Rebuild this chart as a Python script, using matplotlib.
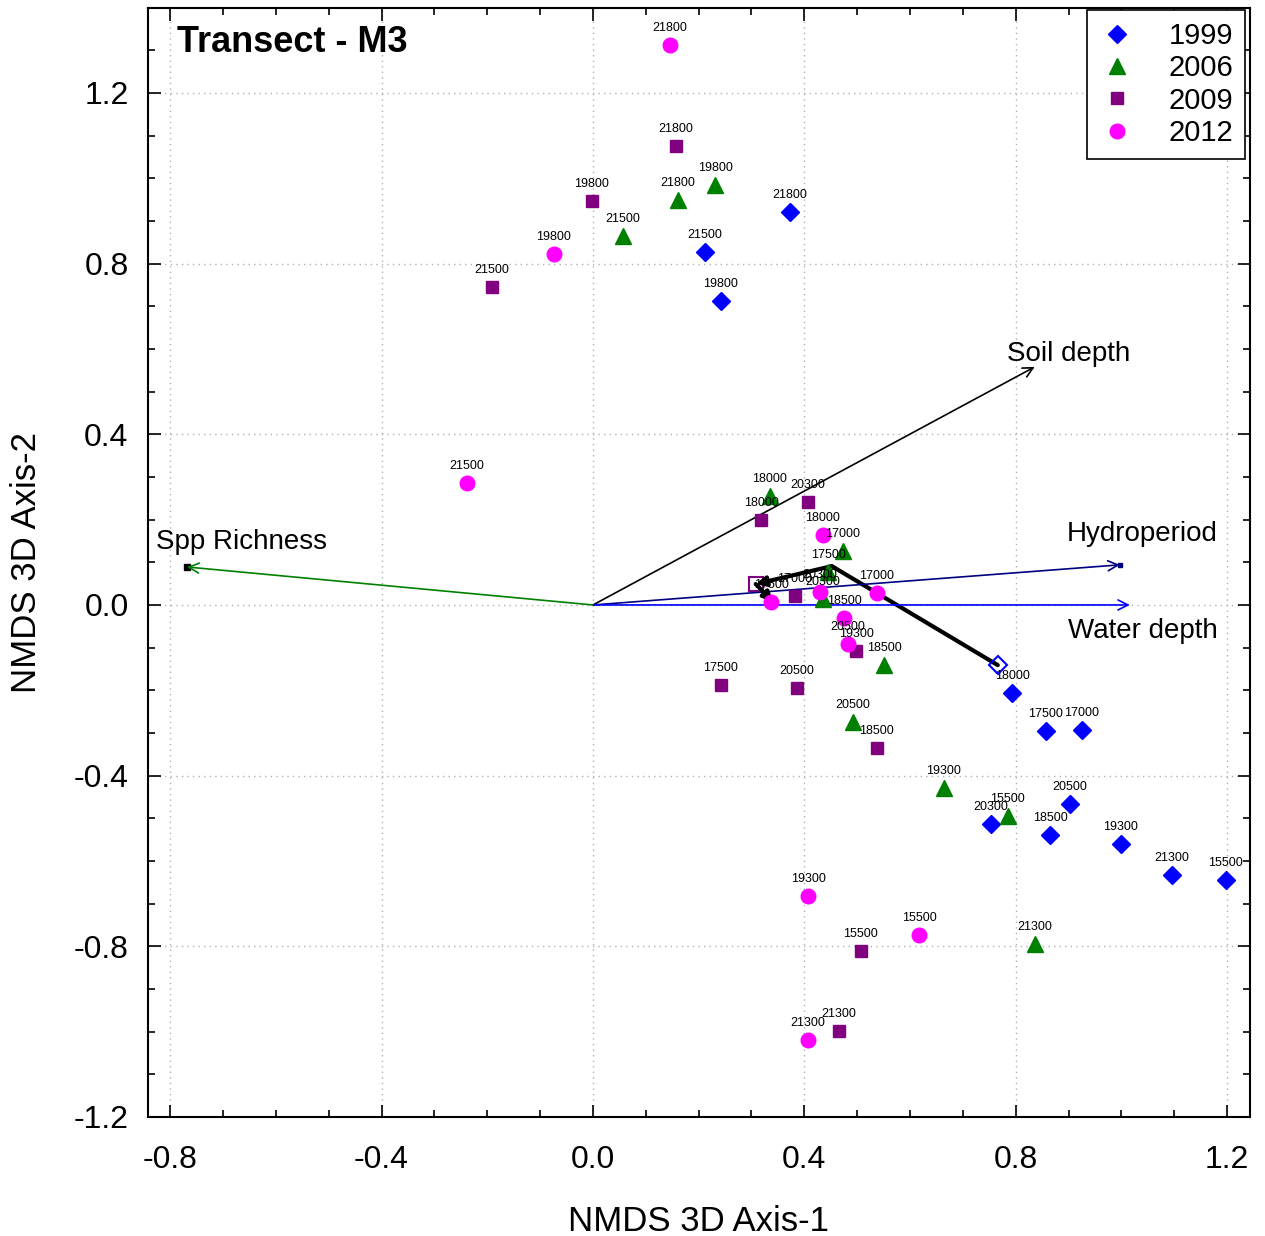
import matplotlib.pyplot as plt
from matplotlib.ticker import MultipleLocator, FormatStrFormatter

plt.rcParams['font.family'] = ['Liberation Sans', 'DejaVu Sans']

# NMDS scores per sampling year (site label, axis-1, axis-2)
sites_1999 = ['21800', '21500', '19800', '18000', '17500', '17000',
              '20300', '18500', '20500', '19300', '21300', '15500']
x_1999 = [0.373, 0.212, 0.242, 0.793, 0.857, 0.925, 0.753, 0.865, 0.902, 0.999, 1.095, 1.197]
y_1999 = [0.921, 0.827, 0.712, -0.206, -0.295, -0.293, -0.513, -0.539, -0.466, -0.560, -0.633, -0.644]

sites_2006 = ['21800', '19800', '21500', '18000', '17000', '17500',
              '20300', '18500', '20500', '19300', '15500', '21300']
x_2006 = [0.161, 0.231, 0.057, 0.335, 0.473, 0.445, 0.435, 0.551, 0.492, 0.664, 0.785, 0.836]
y_2006 = [0.949, 0.984, 0.865, 0.255, 0.127, 0.077, 0.014, -0.141, -0.274, -0.429, -0.494, -0.794]

sites_2009 = ['21800', '19800', '21500', '18000', '20300', '17000',
              '17500', '20500', '19300', '18500', '15500', '21300']
x_2009 = [0.157, -0.002, -0.191, 0.318, 0.407, 0.382, 0.242, 0.386, 0.498, 0.537, 0.507, 0.465]
y_2009 = [1.076, 0.947, 0.745, 0.199, 0.241, 0.021, -0.187, -0.195, -0.108, -0.335, -0.811, -0.998]

sites_2012 = ['21800', '19800', '21500', '18000', '17000', '17500',
              '20300', '18500', '20500', '19300', '15500', '21300']
x_2012 = [0.146, -0.074, -0.238, 0.435, 0.537, 0.337, 0.429, 0.475, 0.482, 0.407, 0.617, 0.407]
y_2012 = [1.312, 0.823, 0.286, 0.164, 0.028, 0.007, 0.031, -0.030, -0.091, -0.682, -0.773, -1.019]

# environmental vectors
vec_names = ['Soil depth', 'Hydroperiod', 'Water depth', 'Spp Richness']
vec_x = [0.836, 0.997, 1.016, -0.768]
vec_y = [0.558, 0.094, 0.000, 0.089]
vec_colors = ['black', '#000080', '#0000ff', '#008000']

# year centroids (trajectory)
cent_x = [0.766, 0.452, 0.308, 0.341]
cent_y = [-0.141, 0.091, 0.049, 0.007]

fig = plt.figure(figsize=(12.65, 12.36), dpi=100)
ax = fig.add_axes([0.117, 0.0963, 0.871, 0.8972])

ax.set_xlim(-0.842, 1.243)
ax.set_ylim(-1.2, 1.399)

ax.grid(True, which='major', color='#b0b0b0', linestyle=(0, (1, 3)), linewidth=1)
ax.set_axisbelow(True)

# vectors
for name, vx, vy, c in zip(vec_names, vec_x, vec_y, vec_colors):
    ax.annotate('', xy=(vx, vy), xytext=(0, 0),
                arrowprops=dict(arrowstyle='->', color=c, lw=1.2, mutation_scale=18,
                                shrinkA=0, shrinkB=0))
ax.plot([vec_x[3]], [vec_y[3]], 's', color='black', markersize=4)
ax.plot([vec_x[1]], [vec_y[1]], 's', color='#000080', markersize=3)

ax.text(0.783, 0.558, 'Soil depth', fontsize=20, ha='left', va='bottom')
ax.text(1.04, 0.135, 'Hydroperiod', fontsize=20, ha='center', va='bottom')
ax.text(1.04, -0.06, 'Water depth', fontsize=20, ha='center', va='center')
ax.text(-0.827, 0.118, 'Spp Richness', fontsize=20, ha='left', va='bottom')

# trajectory
ax.plot(cent_x[:2], cent_y[:2], color='black', lw=3, solid_capstyle='round')
for i in (1, 2):
    ax.annotate('', xy=(cent_x[i + 1], cent_y[i + 1]), xytext=(cent_x[i], cent_y[i]),
                arrowprops=dict(arrowstyle='-|>', color='black', lw=3, mutation_scale=14,
                                shrinkA=0, shrinkB=0))
ax.plot([cent_x[0]], [cent_y[0]], 'D', mfc='none', mec='#0000ff', mew=1.5, markersize=9)
ax.plot([cent_x[2]], [cent_y[2]], 's', mfc='none', mec='#800080', mew=1.5, markersize=10)

years = [
    ('1999', sites_1999, x_1999, y_1999, 'D', '#0000ff', 9),
    ('2006', sites_2006, x_2006, y_2006, '^', '#008000', 11),
    ('2009', sites_2009, x_2009, y_2009, 's', '#800080', 9),
    ('2012', sites_2012, x_2012, y_2012, 'o', '#ff00ff', 10.5),
]
for yr, sites, xs, ys, m, c, ms in years:
    ax.plot(xs, ys, m, color=c, markersize=ms, linestyle='none', label=yr, zorder=3)
    for s, xv, yv in zip(sites, xs, ys):
        ax.annotate(s, (xv, yv), xytext=(0, 8), textcoords='offset points',
                    ha='center', va='bottom', fontsize=9, zorder=4)

ax.text(0.026, 0.985, 'Transect - M3', transform=ax.transAxes, fontsize=26,
        fontweight='bold', ha='left', va='top')

leg = ax.legend(loc='upper right', bbox_to_anchor=(0.9955, 0.998), fontsize=21,
                frameon=True, fancybox=False, framealpha=1,
                edgecolor='black', handletextpad=1.1, borderpad=0.4,
                labelspacing=0.15, handlelength=1.3, borderaxespad=0.0)
leg.get_frame().set_linewidth(1.2)

ax.xaxis.set_major_locator(MultipleLocator(0.4))
ax.xaxis.set_minor_locator(MultipleLocator(0.1))
ax.yaxis.set_major_locator(MultipleLocator(0.4))
ax.yaxis.set_minor_locator(MultipleLocator(0.1))
ax.xaxis.set_major_formatter(FormatStrFormatter('%.1f'))
ax.yaxis.set_major_formatter(FormatStrFormatter('%.1f'))
ax.tick_params(which='both', direction='in', top=True, right=True, width=1.2)
ax.tick_params(which='major', length=9, labelsize=23)
ax.tick_params(which='minor', length=5)
ax.tick_params(axis='x', which='major', pad=20)
ax.tick_params(axis='y', which='major', pad=14)
for sp in ax.spines.values():
    sp.set_linewidth(1.5)

ax.set_xlabel('NMDS 3D Axis-1', fontsize=25, labelpad=22)
ax.set_ylabel('NMDS 3D Axis-2', fontsize=25, labelpad=22)

fig.savefig('out.png', dpi=100)
